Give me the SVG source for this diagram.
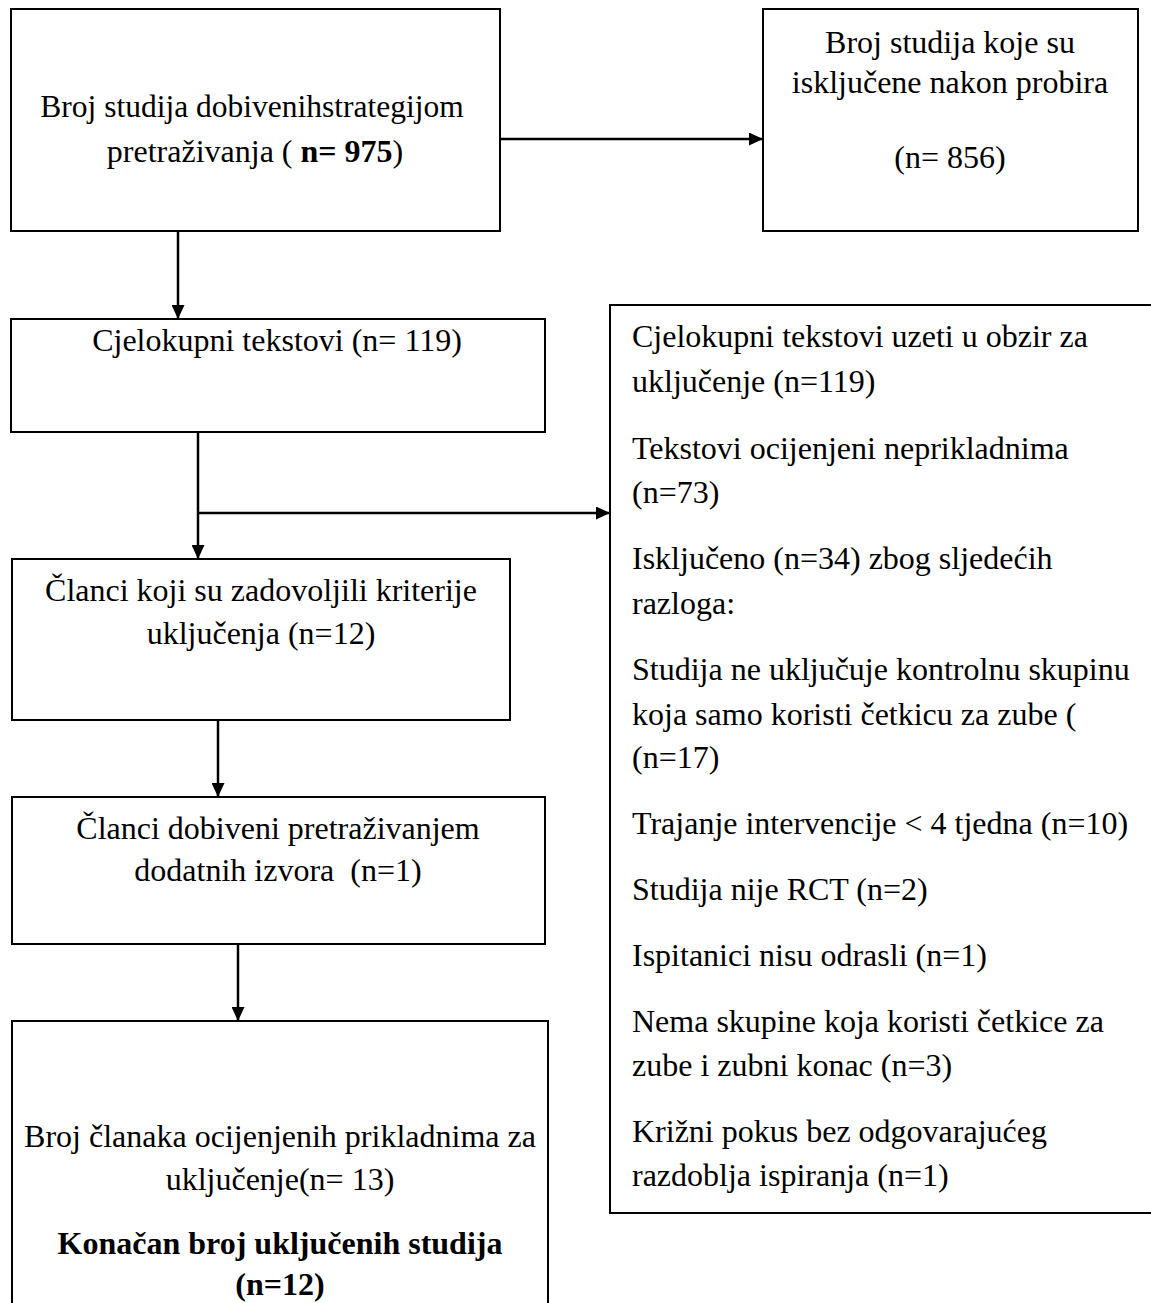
<svg xmlns="http://www.w3.org/2000/svg" width="1151" height="1303" viewBox="0 0 1151 1303">
<defs>
<marker id="arr" markerWidth="14" markerHeight="13" refX="14" refY="6.5" orient="auto" markerUnits="userSpaceOnUse">
<path d="M0,0 L14,6.5 L0,13 Z" fill="#000"/>
</marker>
<style>
.box{fill:#fff;stroke:#000;stroke-width:2}
.t{font-family:"Liberation Serif","Times New Roman",serif;font-size:32px;fill:#000}
.c{text-anchor:middle}
.b{font-weight:bold}
.ln{stroke:#000;stroke-width:2.5;fill:none}
</style>
</defs>
<rect width="1151" height="1303" fill="#fff"/>
<g id="connectors">
<line class="ln" x1="500" y1="139" x2="763" y2="139" marker-end="url(#arr)"/>
<line class="ln" x1="178" y1="231" x2="178" y2="319" marker-end="url(#arr)"/>
<line class="ln" x1="198" y1="432" x2="198" y2="559" marker-end="url(#arr)"/>
<line class="ln" x1="198" y1="513" x2="610" y2="513" marker-end="url(#arr)"/>
<line class="ln" x1="218" y1="720" x2="218" y2="797" marker-end="url(#arr)"/>
<line class="ln" x1="238" y1="944" x2="238" y2="1021" marker-end="url(#arr)"/>
</g>
<g id="n1">
<rect class="box" x="11" y="9" width="489" height="222"/>
<text class="t c" x="252" y="117" style="font-size:31.5px">Broj studija dobivenihstrategijom</text>
<text class="t c" x="255" y="162">pretraživanja ( <tspan class="b">n= 975</tspan>)</text>
</g>
<g id="n2">
<rect class="box" x="763" y="9" width="375" height="222"/>
<text class="t c" x="950" y="53">Broj studija koje su</text>
<text class="t c" x="950" y="93">isključene nakon probira</text>
<text class="t c" x="950" y="168">(n= 856)</text>
</g>
<g id="n3">
<rect class="box" x="11" y="319" width="534" height="113"/>
<text class="t c" x="277" y="351">Cjelokupni tekstovi (n= 119)</text>
</g>
<g id="n4">
<rect class="box" x="610" y="305" width="600" height="908"/>
<text class="t" x="632" y="347">Cjelokupni tekstovi uzeti u obzir za</text>
<text class="t" x="632" y="392">uključenje (n=119)</text>
<text class="t" x="632" y="459">Tekstovi ocijenjeni neprikladnima</text>
<text class="t" x="632" y="503">(n=73)</text>
<text class="t" x="632" y="569">Isključeno (n=34) zbog sljedećih</text>
<text class="t" x="632" y="614">razloga:</text>
<text class="t" x="632" y="680">Studija ne uključuje kontrolnu skupinu</text>
<text class="t" x="632" y="725">koja samo koristi četkicu za zube (</text>
<text class="t" x="632" y="768">(n=17)</text>
<text class="t" x="632" y="834">Trajanje intervencije &lt; 4 tjedna (n=10)</text>
<text class="t" x="632" y="900">Studija nije RCT (n=2)</text>
<text class="t" x="632" y="966">Ispitanici nisu odrasli (n=1)</text>
<text class="t" x="632" y="1032">Nema skupine koja koristi četkice za</text>
<text class="t" x="632" y="1076">zube i zubni konac (n=3)</text>
<text class="t" x="632" y="1142">Križni pokus bez odgovarajućeg</text>
<text class="t" x="632" y="1186">razdoblja ispiranja (n=1)</text>
</g>
<g id="n5">
<rect class="box" x="12" y="559" width="498" height="161"/>
<text class="t c" x="261" y="601">Članci koji su zadovoljili kriterije</text>
<text class="t c" x="261" y="644">uključenja (n=12)</text>
</g>
<g id="n6">
<rect class="box" x="12" y="797" width="533" height="147"/>
<text class="t c" x="278" y="839">Članci dobiveni pretraživanjem</text>
<text class="t c" x="278" y="881" style="white-space:pre">dodatnih izvora  (n=1)</text>
</g>
<g id="n7">
<rect class="box" x="12" y="1021" width="536" height="400"/>
<text class="t c" x="280" y="1147">Broj članaka ocijenjenih prikladnima za</text>
<text class="t c" x="280" y="1190">uključenje(n= 13)</text>
<text class="t c b" x="280" y="1254">Konačan broj uključenih studija</text>
<text class="t c b" x="280" y="1295">(n=12)</text>
</g>
</svg>
